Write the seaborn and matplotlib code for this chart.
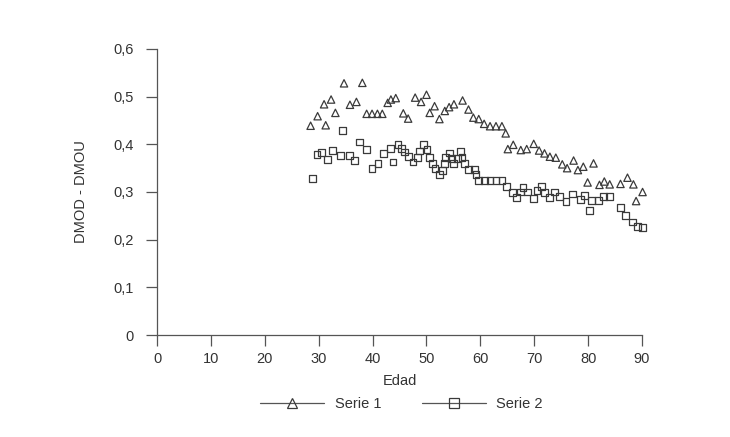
import numpy as np
import pandas as pd
import matplotlib
matplotlib.use("Agg")
import matplotlib.pyplot as plt
import seaborn as sns
from matplotlib.lines import Line2D
from matplotlib.ticker import FuncFormatter

# serie 1 (triangulos)
edad1 = [28.5, 29.8, 31.0, 31.3, 32.3, 33.1, 34.7, 35.8, 37.0, 38.1, 38.9, 39.9, 40.9, 41.8,
         42.8, 43.4, 44.3, 45.7, 46.6, 47.9, 49.0, 50.0, 50.6, 51.5, 52.4, 53.4, 54.2, 55.1,
         56.7, 57.8, 58.7, 59.7, 60.7, 61.8, 62.9, 64.0, 64.7, 65.1, 66.1, 67.5, 68.6, 69.9,
         70.9, 71.9, 72.9, 74.0, 75.2, 76.1, 77.3, 78.1, 79.1, 79.9, 81.0, 82.1, 83.0, 84.0,
         86.0, 87.3, 88.4, 88.9, 90.1]
serie1 = [0.439, 0.459, 0.484, 0.440, 0.494, 0.466, 0.528, 0.483, 0.489, 0.529, 0.464, 0.464, 0.464, 0.464,
          0.487, 0.494, 0.497, 0.465, 0.454, 0.498, 0.489, 0.504, 0.466, 0.480, 0.453, 0.470, 0.478, 0.484,
          0.492, 0.473, 0.456, 0.453, 0.443, 0.438, 0.438, 0.438, 0.423, 0.390, 0.399, 0.388, 0.390, 0.401,
          0.387, 0.381, 0.374, 0.372, 0.358, 0.350, 0.366, 0.346, 0.353, 0.320, 0.360, 0.315, 0.322, 0.316,
          0.317, 0.330, 0.316, 0.281, 0.300]

# serie 2 (cuadrados)
edad2 = [28.9, 29.7, 30.5, 31.7, 32.6, 34.1, 34.4, 35.7, 36.6, 37.5, 38.8, 39.9, 41.0, 42.0,
         43.3, 43.8, 44.7, 45.3, 45.9, 46.7, 47.5, 48.3, 48.7, 49.5, 50.1, 50.6, 51.1, 51.6,
         52.4, 52.9, 53.4, 53.5, 54.3, 54.7, 55.0, 55.7, 56.3, 56.6, 57.1, 57.8, 58.9, 59.2,
         59.6, 60.7, 61.8, 62.9, 64.0, 64.9, 65.9, 66.7, 67.4, 67.9, 68.8, 69.9, 70.5, 71.4,
         71.9, 72.9, 73.7, 74.7, 75.9, 77.1, 78.6, 79.3, 80.2, 80.6, 81.9, 82.9, 84.0, 86.0,
         87.0, 88.3, 89.1, 90.1]
serie2 = [0.328, 0.378, 0.383, 0.368, 0.387, 0.376, 0.429, 0.376, 0.366, 0.405, 0.389, 0.349, 0.360, 0.380,
          0.391, 0.363, 0.400, 0.392, 0.384, 0.374, 0.363, 0.372, 0.386, 0.399, 0.389, 0.373, 0.360, 0.349,
          0.337, 0.345, 0.359, 0.372, 0.382, 0.371, 0.359, 0.371, 0.385, 0.373, 0.359, 0.347, 0.347, 0.336,
          0.324, 0.324, 0.324, 0.324, 0.324, 0.312, 0.299, 0.289, 0.300, 0.309, 0.300, 0.287, 0.303, 0.312,
          0.299, 0.288, 0.300, 0.290, 0.280, 0.296, 0.284, 0.292, 0.261, 0.282, 0.282, 0.291, 0.291, 0.268,
          0.251, 0.237, 0.228, 0.225]

xticks = [0, 10, 20, 30, 40, 50, 60, 70, 80, 90]
yticks = [0, 0.1, 0.2, 0.3, 0.4, 0.5, 0.6]

df1 = pd.DataFrame({"Edad": edad1, "valor": serie1})
df2 = pd.DataFrame({"Edad": edad2, "valor": serie2})

sns.set_style("white")
plt.rcParams['font.family'] = ['Liberation Sans', 'DejaVu Sans']

mk = "#3a3a3a"
fig = plt.figure(figsize=(7.3, 4.37), dpi=100)
ax = fig.add_axes([0.2151, 0.2334, 0.8795 - 0.2151, 0.8879 - 0.2334])

sns.scatterplot(data=df1, x="Edad", y="valor", marker="^", s=28, color=mk,
                facecolor="none", edgecolor=mk, linewidth=0.9, legend=False, ax=ax, clip_on=False)
sns.scatterplot(data=df2, x="Edad", y="valor", marker="s", s=24, color=mk,
                facecolor="none", edgecolor=mk, linewidth=0.9, legend=False, ax=ax, clip_on=False)

ax.set_xlim(0, 90)
ax.set_ylim(0, 0.6)
ax.set_xticks(xticks)
ax.set_yticks(yticks)
ax.yaxis.set_major_formatter(FuncFormatter(lambda v, p: "0" if v == 0 else f"{v:.1f}".replace(".", ",")))

for s in ["top", "right"]:
    ax.spines[s].set_visible(False)
for s in ["left", "bottom"]:
    ax.spines[s].set_color("#555555")
    ax.spines[s].set_linewidth(0.9)
ax.tick_params(axis="both", direction="out", length=8, width=0.9, color="#555555",
               labelsize=10.5, labelcolor="#333333", pad=4, left=True, bottom=True)
ax.tick_params(axis="y", pad=9)

ax.set_xlabel("Edad", fontsize=10.5, color="#333333", labelpad=6)
ax.set_ylabel("DMOD - DMOU", fontsize=10.5, color="#333333", labelpad=18)

handles = [
    Line2D([], [], color="#555555", lw=0.9, marker="^", markersize=6.5, markerfacecolor="none",
           markeredgecolor=mk, markeredgewidth=0.9, label="Serie 1"),
    Line2D([], [], color="#555555", lw=0.9, marker="s", markersize=6.5, markerfacecolor="none",
           markeredgecolor=mk, markeredgewidth=0.9, label="Serie 2"),
]
fig.legend(handles=handles, loc="center", bbox_to_anchor=(0.55, 0.075), ncol=2,
           frameon=False, fontsize=10.5, handlelength=4.4, columnspacing=2.8, handletextpad=0.7,
           labelcolor="#333333")

fig.savefig("out.png", dpi=100)
